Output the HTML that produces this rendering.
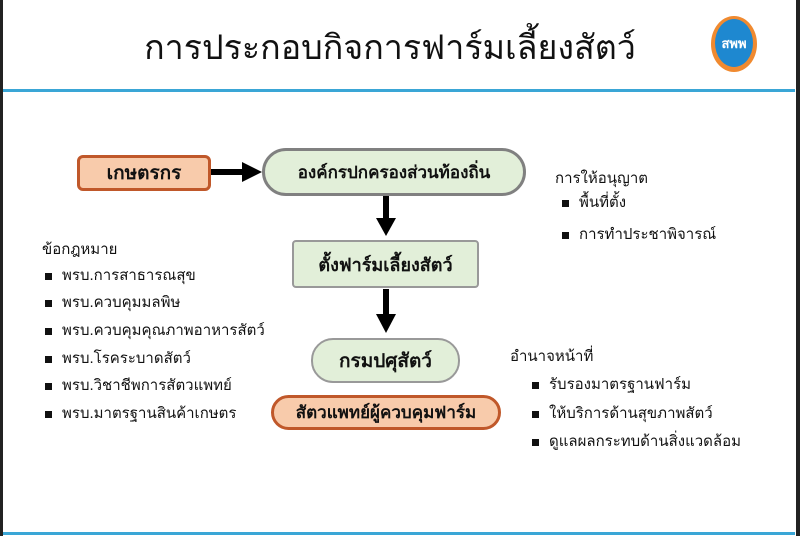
<!DOCTYPE html>
<html><head><meta charset="utf-8"><style>
body{margin:0;width:800px;height:536px;background:#fff;position:relative;overflow:hidden;font-family:"Liberation Sans","DejaVu Sans",sans-serif;color:#111}
.a{position:absolute}
.box{position:absolute;display:flex;align-items:center;justify-content:center;box-sizing:border-box;font-weight:bold;white-space:nowrap}
.t{position:absolute;font-size:15px;white-space:nowrap}
.b::before{content:"";display:inline-block;width:7px;height:7px;background:#111;margin-right:10px;vertical-align:middle}
</style></head><body>
<div class="a" style="left:0;top:0;width:3px;height:536px;background:#222"></div>
<div class="a" style="right:0;top:0;width:4px;height:536px;background:#222"></div>
<div class="a" style="left:140px;top:20px;width:500px;text-align:center;font-size:34px">การประกอบกิจการฟาร์มเลี้ยงสัตว์</div>
<div class="a" style="left:711px;top:16px;width:46px;height:56px;border-radius:50%;background:#f08a30"></div>
<div class="a" style="left:715px;top:19px;width:38px;height:48px;border-radius:50%;background:#1e88d0;color:#fff;font-weight:bold;font-size:13px;display:flex;align-items:center;justify-content:center">สพพ</div>
<div class="a" style="left:3px;top:89px;width:792px;height:3px;background:#3aa6d6"></div>
<div class="a" style="left:3px;top:532px;width:792px;height:3px;background:#3aa6d6"></div>

<div class="box" style="left:77px;top:155px;width:134px;height:36px;background:#f8cbab;border:3px solid #c0582a;border-radius:6px;font-size:19px">เกษตรกร</div>
<div class="box" style="left:262px;top:148px;width:264px;height:48px;background:#e2efd9;border:3px solid #808080;border-radius:24px;font-size:17px">องค์กรปกครองส่วนท้องถิ่น</div>
<div class="box" style="left:292px;top:240px;width:187px;height:48px;background:#e2efd9;border:2px solid #999;border-radius:4px;font-size:18px">ตั้งฟาร์มเลี้ยงสัตว์</div>
<div class="box" style="left:311px;top:338px;width:149px;height:45px;background:#e2efd9;border:2px solid #999;border-radius:22px;font-size:19px">กรมปศุสัตว์</div>
<div class="box" style="left:271px;top:395px;width:230px;height:35px;background:#f8cbab;border:3px solid #c0582a;border-radius:18px;font-size:17px">สัตวแพทย์ผู้ควบคุมฟาร์ม</div>

<svg class="a" style="left:0;top:0" width="800" height="536">
<line x1="211" y1="172" x2="244" y2="172" stroke="#000" stroke-width="6"/>
<polygon points="242,162 262,172 242,182" fill="#000"/>
<line x1="386" y1="196" x2="386" y2="220" stroke="#000" stroke-width="6"/>
<polygon points="376,218 396,218 386,236" fill="#000"/>
<line x1="386" y1="289" x2="386" y2="316" stroke="#000" stroke-width="6"/>
<polygon points="376,314 396,314 386,333" fill="#000"/>
</svg>

<div class="t" style="left:555px;top:166px">การให้อนุญาต</div>
<div class="t b" style="left:562px;top:190px">พื้นที่ตั้ง</div>
<div class="t b" style="left:562px;top:222px">การทำประชาพิจารณ์</div>

<div class="t" style="left:42px;top:237px">ข้อกฎหมาย</div>
<div class="t b" style="left:45px;top:263px">พรบ.การสาธารณสุข</div>
<div class="t b" style="left:45px;top:290px">พรบ.ควบคุมมลพิษ</div>
<div class="t b" style="left:45px;top:318px">พรบ.ควบคุมคุณภาพอาหารสัตว์</div>
<div class="t b" style="left:45px;top:346px">พรบ.โรคระบาดสัตว์</div>
<div class="t b" style="left:45px;top:373px">พรบ.วิชาชีพการสัตวแพทย์</div>
<div class="t b" style="left:45px;top:401px">พรบ.มาตรฐานสินค้าเกษตร</div>

<div class="t" style="left:510px;top:344px">อำนาจหน้าที่</div>
<div class="t b" style="left:532px;top:372px">รับรองมาตรฐานฟาร์ม</div>
<div class="t b" style="left:532px;top:401px">ให้บริการด้านสุขภาพสัตว์</div>
<div class="t b" style="left:532px;top:429px">ดูแลผลกระทบด้านสิ่งแวดล้อม</div>
</body></html>
